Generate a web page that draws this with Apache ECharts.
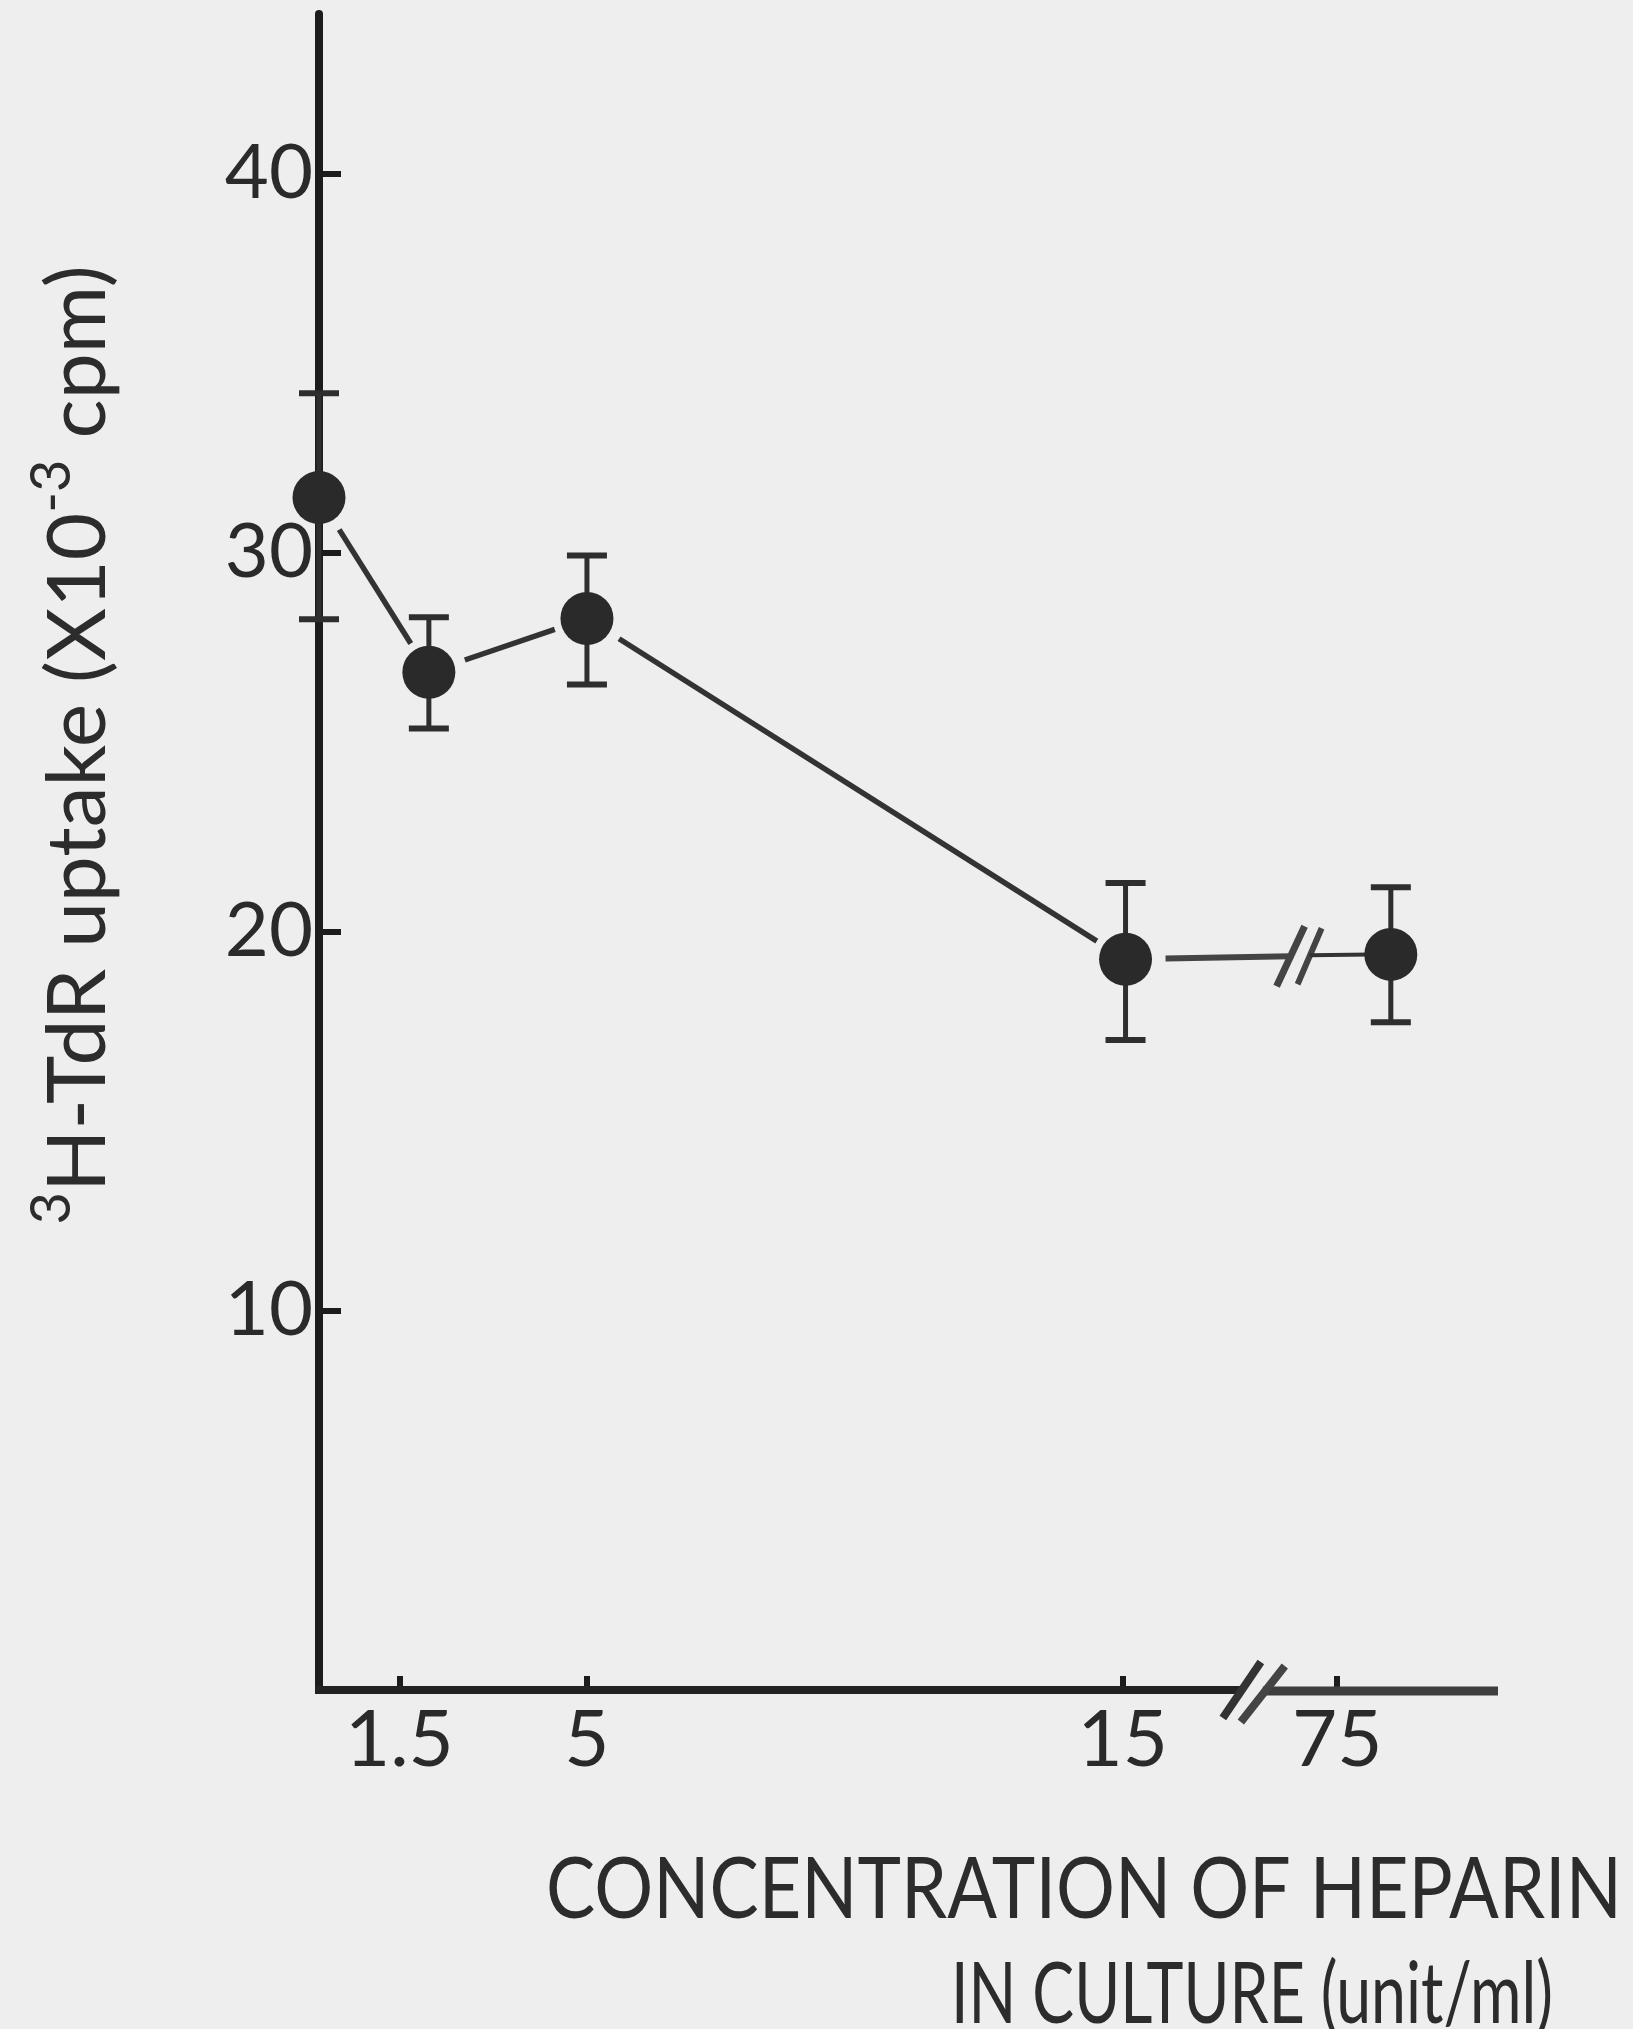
<!DOCTYPE html>
<html>
<head>
<meta charset="utf-8">
<script src="https://cdn.jsdelivr.net/npm/echarts@6/dist/echarts.min.js"></script>
<style>
  html, body { margin: 0; padding: 0; background: #eeeeee; }
  #chart { width: 1633px; height: 2029px; }
</style>
</head>
<body>
<div id="chart"></div>
<script>
// Heparin concentration of each culture (unit/ml)
const concentrations = ['0', '1.5', '5', '15', '75'];
// Horizontal position of each point on the broken concentration axis
const plotPositions = [0, 2.05, 5, 15.05, 20.0];
// Mean 3H-TdR uptake (x10^3 cpm) with the ends of each error bar
const uptakeMean  = [31.45, 26.84, 28.26, 19.27, 19.40];
const uptakeUpper = [34.20, 28.29, 29.92, 21.28, 21.17];
const uptakeLower = [28.24, 25.36, 26.52, 17.14, 17.61];
// Concentration axis ticks (positions on the axis and their labels)
const xTickPositions = [1.5, 5, 15, 19.0];
const xTickLabels = ['1.5', '5', '15', '75'];
// Uptake axis ticks
const yTickValues = [10, 20, 30, 40];
// Where the axis and the connecting line are interrupted
const axisBreakAt = 17.22;
const lineBreakAt = 18.13;

const FONT = 'Lato, "Noto Sans", sans-serif';
const INK = '#2a2a2a';
const AXIS_INK = '#1c1c1c';

const chart = echarts.init(document.getElementById('chart'), null, { renderer: 'canvas' });

function tickLabel(v) {
  for (let i = 0; i < xTickPositions.length; i++) {
    if (Math.abs(xTickPositions[i] - v) < 1e-6) return xTickLabels[i];
  }
  return '';
}

const meanPoints = plotPositions.map((x, i) => [x, uptakeMean[i]]);
const errorData = plotPositions.map((x, i) => [x, uptakeLower[i], uptakeUpper[i]]);
const segmentData = meanPoints.slice(0, -1);

// shorten a segment so it stops short of the round markers
function trim(a, b, gapA, gapB) {
  const dx = b[0] - a[0], dy = b[1] - a[1];
  const len = Math.sqrt(dx * dx + dy * dy);
  const ux = dx / len, uy = dy / len;
  return [[a[0] + ux * gapA, a[1] + uy * gapA], [b[0] - ux * gapB, b[1] - uy * gapB]];
}

function slash(cx, cy, dx, dy, width, color) {
  return {
    type: 'line',
    shape: { x1: cx - dx, y1: cy + dy, x2: cx + dx, y2: cy - dy },
    style: { stroke: color, lineWidth: width, lineCap: 'butt' }
  };
}

const option = {
  backgroundColor: '#eeeeee',
  animation: false,
  grid: { left: 319, right: 135, top: 14, bottom: 339, containLabel: false },
  xAxis: {
    type: 'value',
    min: 0,
    max: 22,
    axisLine: { show: false },
    splitLine: { show: false },
    axisTick: {
      show: true,
      inside: true,
      length: 14,
      customValues: xTickPositions,
      lineStyle: { color: AXIS_INK, width: 6 }
    },
    axisLabel: {
      show: true,
      customValues: xTickPositions,
      formatter: tickLabel,
      margin: 12,
      fontFamily: FONT,
      fontSize: 78,
      color: INK
    }
  },
  yAxis: {
    type: 'value',
    min: 0,
    max: 44.2,
    interval: 10,
    axisLine: { show: true, lineStyle: { color: AXIS_INK, width: 8 } },
    splitLine: { show: false },
    axisTick: {
      show: true,
      inside: true,
      length: 22,
      customValues: yTickValues,
      lineStyle: { color: AXIS_INK, width: 6 }
    },
    axisLabel: {
      show: true,
      customValues: yTickValues,
      margin: 6,
      fontFamily: FONT,
      fontSize: 76,
      color: INK
    }
  },
  series: [
    {
      // connecting line, stopping short of the markers and broken before 75
      type: 'custom',
      z: 1,
      data: segmentData,
      encode: { x: 0, y: 1 },
      renderItem: function (params, api) {
        const i = params.dataIndex;
        const a = api.coord(meanPoints[i]);
        const b = api.coord(meanPoints[i + 1]);
        if (i < segmentData.length - 1) {
          const s = trim(a, b, 38, 34);
          return {
            type: 'line',
            shape: { x1: s[0][0], y1: s[0][1], x2: s[1][0], y2: s[1][1] },
            style: { stroke: '#333333', lineWidth: 5.5 }
          };
        }
        const t = (lineBreakAt - meanPoints[i][0]) / (meanPoints[i + 1][0] - meanPoints[i][0]);
        const by = meanPoints[i][1] + t * (meanPoints[i + 1][1] - meanPoints[i][1]);
        const br = api.coord([lineBreakAt, by]);
        const s1 = trim(a, br, 40, 0);
        const gap = 19;
        return {
          type: 'group',
          children: [
            { type: 'line', shape: { x1: s1[0][0], y1: s1[0][1], x2: br[0], y2: br[1] },
              style: { stroke: '#444444', lineWidth: 6 } },
            slash(br[0], br[1], 14, 30, 7, '#444444'),
            slash(br[0] + gap, br[1], 12, 28, 6, '#444444'),
            { type: 'line', shape: { x1: br[0] + gap, y1: br[1] - 1, x2: b[0] - 20, y2: b[1] },
              style: { stroke: '#333333', lineWidth: 4 } }
          ]
        };
      }
    },
    {
      // error bars with flat caps
      type: 'custom',
      z: 2,
      data: errorData,
      encode: { x: 0, y: [1, 2] },
      renderItem: function (params, api) {
        const x = api.value(0);
        const lo = api.coord([x, api.value(1)]);
        const hi = api.coord([x, api.value(2)]);
        const cap = 20;
        const st = { stroke: '#2e2e2e', lineWidth: 5 };
        const capSt = { stroke: '#2e2e2e', lineWidth: 6 };
        return {
          type: 'group',
          children: [
            { type: 'line', shape: { x1: lo[0], y1: lo[1], x2: hi[0], y2: hi[1] }, style: st },
            { type: 'line', shape: { x1: hi[0] - cap, y1: hi[1], x2: hi[0] + cap, y2: hi[1] }, style: capSt },
            { type: 'line', shape: { x1: lo[0] - cap, y1: lo[1], x2: lo[0] + cap, y2: lo[1] }, style: capSt }
          ]
        };
      }
    },
    {
      type: 'scatter',
      z: 3,
      data: meanPoints,
      symbol: 'circle',
      symbolSize: 53,
      itemStyle: { color: '#2a2a2a', opacity: 1 },
      emphasis: { disabled: true }
    }
  ]
};

chart.setOption(option);

// text width helper for fitting the axis titles
const measureCtx = document.createElement('canvas').getContext('2d');
function textWidth(text, font) {
  measureCtx.font = font;
  return measureCtx.measureText(text).width;
}

// hand-drawn style concentration axis with a break before 75
const p0 = chart.convertToPixel({ gridIndex: 0 }, [0, 0]);
const pb = chart.convertToPixel({ gridIndex: 0 }, [axisBreakAt, 0]);
const pEnd = chart.convertToPixel({ gridIndex: 0 }, [22, 0]);
const breakGap = 21;

const xTitle1 = 'CONCENTRATION OF HEPARIN';
const xTitle2 = 'IN CULTURE (unit/ml)';
const titleFont = '400 86px Lato';
const t1w = textWidth(xTitle1, titleFont);
const t2w = textWidth(xTitle2, titleFont);

chart.setOption({
  graphic: [
    { type: 'line', z: 10, shape: { x1: p0[0] - 4, y1: p0[1], x2: pb[0], y2: pb[1] },
      style: { stroke: '#222222', lineWidth: 8 } },
    { type: 'line', z: 10, shape: { x1: pb[0] + breakGap, y1: pb[1] + 1, x2: pEnd[0], y2: pEnd[1] + 1 },
      style: { stroke: '#3e3e3e', lineWidth: 9 } },
    Object.assign(slash(pb[0], pb[1], 19, 28, 8, '#333333'), { z: 10 }),
    Object.assign(slash(pb[0] + breakGap, pb[1] + 4, 22, 28, 8, '#444444'), { z: 10 }),
    {
      type: 'text', z: 10,
      x: 546, y: 1933,
      scaleX: 1076 / t1w, scaleY: 1,
      style: { text: xTitle1, font: titleFont, fill: '#2c2c2c', align: 'left', verticalAlign: 'bottom' }
    },
    {
      type: 'text', z: 10,
      x: 951, y: 2038,
      scaleX: 602 / t2w, scaleY: 1,
      style: { text: xTitle2, font: titleFont, fill: '#2c2c2c', align: 'left', verticalAlign: 'bottom' }
    },
    {
      type: 'text', z: 10,
      x: 120, y: 745,
      rotation: Math.PI / 2,
      style: {
        text: '{sup|3}{main|H-TdR uptake (X10}{sup|-3}{main| cpm)}',
        align: 'center',
        verticalAlign: 'bottom',
        fill: '#2c2c2c',
        rich: {
          main: { fontFamily: 'Lato', fontSize: 82, lineHeight: 96, verticalAlign: 'bottom', fill: '#2c2c2c' },
          sup: { fontFamily: 'Lato', fontSize: 56, lineHeight: 96, verticalAlign: 'top', fill: '#2c2c2c' }
        }
      }
    }
  ]
});
</script>
</body>
</html>
